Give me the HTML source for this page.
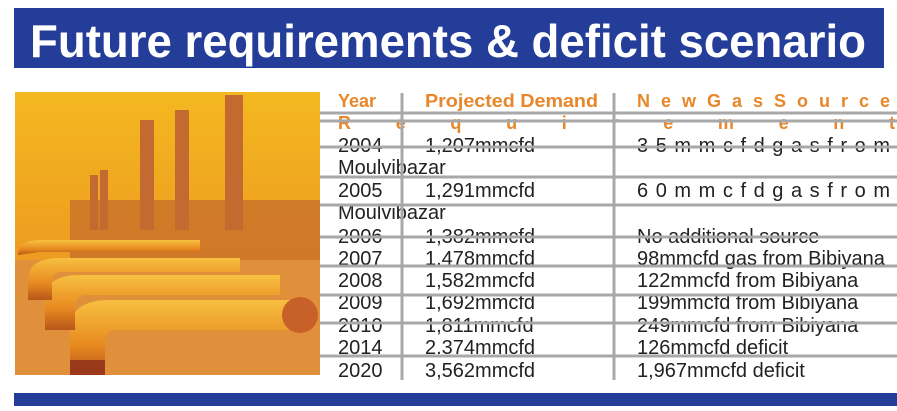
<!DOCTYPE html>
<html><head><meta charset="utf-8"><style>
html,body{margin:0;padding:0;background:#fff;width:897px;height:411px;overflow:hidden}
svg{display:block;font-family:"Liberation Sans",sans-serif}
</style></head><body>
<svg width="897" height="411" viewBox="0 0 897 411">
<defs>
<linearGradient id="sky" x1="0" y1="0" x2="0" y2="1">
<stop offset="0" stop-color="#f4b820"/><stop offset="0.5" stop-color="#eea020"/><stop offset="1" stop-color="#e08a28"/>
</linearGradient>
<linearGradient id="pipe" x1="0" y1="0" x2="0" y2="1">
<stop offset="0" stop-color="#f7c040"/><stop offset="0.6" stop-color="#e88a20"/><stop offset="1" stop-color="#b8561a"/>
</linearGradient>
</defs>
<rect x="14" y="8" width="870" height="60" fill="#233d98"/>
<text x="448" y="57" fill="#fff" font-size="46" font-weight="bold" text-anchor="middle" textLength="836" lengthAdjust="spacingAndGlyphs">Future requirements &amp; deficit scenario</text>

<g>
<rect x="15" y="92" width="305" height="283" fill="url(#sky)"/>
<rect x="70" y="200" width="250" height="60" fill="#c8702a" opacity="0.8"/>
<rect x="140" y="120" width="14" height="110" fill="#c26a30"/>
<rect x="175" y="110" width="14" height="120" fill="#c26a30"/>
<rect x="225" y="95" width="18" height="135" fill="#c26a30"/>
<rect x="100" y="170" width="8" height="60" fill="#c26a30"/>
<rect x="90" y="175" width="8" height="55" fill="#c26a30"/>
<rect x="15" y="260" width="305" height="115" fill="#e0903a"/>
<path d="M70 375 L70 330 Q70 300 110 300 L300 300 L300 330 L115 330 Q105 330 105 345 L105 375Z" fill="url(#pipe)"/>
<path d="M45 330 L45 300 Q45 275 80 275 L280 275 L280 295 L85 295 Q75 295 75 310 L75 330Z" fill="url(#pipe)"/>
<path d="M28 300 L28 280 Q28 258 60 258 L240 258 L240 272 L60 272 Q52 272 52 285 L52 300Z" fill="url(#pipe)"/>
<path d="M18 255 Q18 240 40 240 L200 240 L200 252 L40 252 Z" fill="url(#pipe)"/>
<rect x="70" y="360" width="35" height="15" fill="#9a3a1a"/>
<circle cx="300" cy="315" r="18" fill="#c8602a"/>
</g>

<g id="table"></g>
<rect x="14" y="393" width="883" height="13" fill="#233d98"/>
</svg>
<script>
const years = ["2004","Moulvibazar","2005","Moulvibazar","2006","2007","2008","2009","2010","2014","2020"];
const demand = ["1,207mmcfd","","1,291mmcfd","","1,382mmcfd","1,478mmcfd","1,582mmcfd","1,692mmcfd","1,811mmcfd","2.374mmcfd","3,562mmcfd"];
const source = ["3 5 m m c f d   g a s   f r o m","","6 0 m m c f d   g a s   f r o m","","No additional source","98mmcfd gas from Bibiyana","122mmcfd from Bibiyana","199mmcfd from Bibiyana","249mmcfd from Bibiyana","126mmcfd deficit","1,967mmcfd deficit"];
const rowY = [152,174,197,219,243,265,287,309,332,354,377];
const lineY = [113,121,147,177,205,237,266,295,323,356];
const NS="http://www.w3.org/2000/svg";
const g=document.getElementById('table');
function t(x,y,s,fill,size,bold,len,adj){
  const e=document.createElementNS(NS,'text');
  e.setAttribute('x',x);e.setAttribute('y',y);e.setAttribute('fill',fill);
  e.setAttribute('font-size',size);if(bold)e.setAttribute('font-weight','bold');
  if(len){e.setAttribute('textLength',len);e.setAttribute('lengthAdjust',adj||'spacing');}
  e.setAttribute('xml:space','preserve');
  e.textContent=s;g.appendChild(e);return e;
}
function l(x1,y1,x2,y2,w){
  const e=document.createElementNS(NS,'line');
  e.setAttribute('x1',x1);e.setAttribute('y1',y1);e.setAttribute('x2',x2);e.setAttribute('y2',y2);
  e.setAttribute('stroke','#a8a8a8');e.setAttribute('stroke-width',w);
  
  
  g.appendChild(e);
}
let h;
h=t(338,107,"Year","#e8862a",18,true);


h=t(425,107,"Projected Demand","#e8862a",18,true,173,'spacingAndGlyphs');


h=t(637,107,"N e w   G a s   S o u r c e","#e8862a",18,true,253);


h=t(338,129,"R   e   q   u   i   r   e   m   e   n   t","#e8862a",18,true,557);


years.forEach((y,i)=>{
  let a=t(338,rowY[i],y,"#222",20,false);
  
  
  if(demand[i]){let b=t(425,rowY[i],demand[i],"#222",20,false);
  
  }
  if(source[i]){let c=t(637,rowY[i],source[i],"#222",20,false,source[i].startsWith("3 5")||source[i].startsWith("6 0")?253:null);
  
  }
});
lineY.forEach(y=>l(320,y,897,y,3));
l(402,93,402,380,3);
l(614,93,614,380,3);
</script>
</body></html>
